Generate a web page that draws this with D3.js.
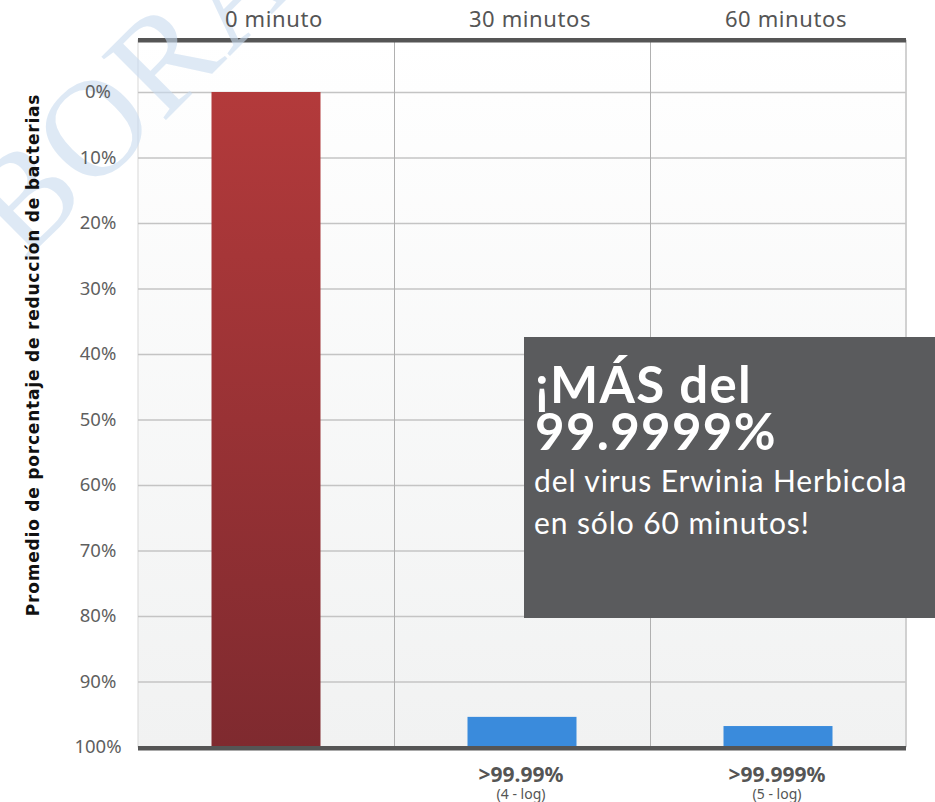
<!DOCTYPE html>
<html>
<head>
<meta charset="utf-8">
<script src="https://cdn.jsdelivr.net/npm/d3@7"></script>
<style>
  body { margin: 0; background: #fff; }
  svg { display: block; }
</style>
</head>
<body>
<div id="chart"></div>
<script>
// data
var categories = ["0 minuto", "30 minutos", "60 minutos"];
var barTops = [0, 95.4, 96.8];          // % where the bar starts (bars run down to 100%)
var barColors = ["red", "blue", "blue"];
var bottomLabels = ["", ">99.99%", ">99.999%"];
var bottomSubLabels = ["", "(4 - log)", "(5 - log)"];
var yTicks = [0, 10, 20, 30, 40, 50, 60, 70, 80, 90, 100];
var boxTitle = ["¡MÁS del", "99.9999%"];
var boxText = ["del virus Erwinia Herbicola", "en sólo 60 minutos!"];

var width = 935, height = 802;
var margin = {top: 92, left: 138, right: 29, bottom: 55};

var svg = d3.select("#chart").append("svg")
    .attr("width", width)
    .attr("height", height);

var defs = svg.append("defs");
var bg = defs.append("linearGradient").attr("id", "bg")
    .attr("x1", 0).attr("y1", 0).attr("x2", 0).attr("y2", 1);
bg.append("stop").attr("offset", "0%").attr("stop-color", "#ffffff");
bg.append("stop").attr("offset", "100%").attr("stop-color", "#f1f2f2");

var red = defs.append("linearGradient").attr("id", "red")
    .attr("x1", 0).attr("y1", 0).attr("x2", 0).attr("y2", 1);
red.append("stop").attr("offset", "0%").attr("stop-color", "#b33a3b");
red.append("stop").attr("offset", "100%").attr("stop-color", "#7f2a2f");

var x = d3.scaleBand()
    .domain(categories)
    .range([margin.left, width - margin.right])
    .paddingInner(0)
    .paddingOuter(0);

var y = d3.scaleLinear()
    .domain([0, 100])
    .range([margin.top, 747]);

var plotTop = 40;

// plot background
svg.append("rect")
    .attr("x", x.range()[0])
    .attr("y", plotTop)
    .attr("width", x.range()[1] - x.range()[0])
    .attr("height", y(100) - plotTop)
    .style("fill", "url(#bg)")
    .style("stroke", "#d8d8d8")
    .style("stroke-width", 1);

// horizontal grid
svg.append("g").attr("class", "grid")
    .selectAll("line")
    .data(yTicks)
    .enter().append("line")
    .attr("x1", x.range()[0])
    .attr("x2", x.range()[1])
    .attr("y1", function(d) { return y(d) + 0.5; })
    .attr("y2", function(d) { return y(d) + 0.5; })
    .style("stroke", "#c4c4c4")
    .style("stroke-width", 1.5);

// vertical separators
svg.append("g")
    .selectAll("line")
    .data(categories.slice(1))
    .enter().append("line")
    .attr("x1", function(d) { return Math.round(x(d)) + 0.5; })
    .attr("x2", function(d) { return Math.round(x(d)) + 0.5; })
    .attr("y1", plotTop)
    .attr("y2", y(100))
    .style("stroke", "#b0b0b0")
    .style("stroke-width", 1);

svg.append("line")
    .attr("x1", x.range()[1]).attr("x2", x.range()[1])
    .attr("y1", plotTop).attr("y2", y(100))
    .style("stroke", "#c8c8c8").style("stroke-width", 1.5);

// bars
var barW = 109;
svg.append("g")
    .selectAll("rect")
    .data(categories)
    .enter().append("rect")
    .attr("x", function(d) { return x(d) + x.bandwidth() / 2 - barW / 2; })
    .attr("y", function(d, i) { return y(barTops[i]); })
    .attr("width", barW)
    .attr("height", function(d, i) { return y(100) - y(barTops[i]); })
    .style("fill", function(d, i) { return barColors[i] === "red" ? "url(#red)" : "#3a8bdc"; });

// thick top / bottom rules
svg.append("rect")
    .attr("x", x.range()[0]).attr("y", plotTop - 2)
    .attr("width", x.range()[1] - x.range()[0]).attr("height", 4.5)
    .style("fill", "#555555");
svg.append("rect")
    .attr("x", x.range()[0]).attr("y", y(100) - 1)
    .attr("width", x.range()[1] - x.range()[0]).attr("height", 4.5)
    .style("fill", "#555555");

// watermark
svg.append("text")
    .attr("transform", "translate(24,262) rotate(-45)")
    .style("font-family", "'Liberation Serif', 'DejaVu Serif', serif")
    .style("font-size", "138px")
    .style("fill", "#c9dcf0")
    .style("opacity", 0.6)
    .style("letter-spacing", "2px")
    .text("BORA");

// y tick labels
svg.append("g")
    .selectAll("text")
    .data(yTicks)
    .enter().append("text")
    .attr("x", 98)
    .attr("y", function(d) { return y(d) + 6; })
    .style("text-anchor", "middle")
    .style("font-family", "'Noto Sans', sans-serif")
    .style("font-size", "18.5px")
    .style("fill", "#5f5f5f")
    .text(function(d) { return d + "%"; });

// y title
svg.append("text")
    .attr("transform", "translate(39,355) rotate(-90)")
    .style("text-anchor", "middle")
    .style("font-family", "'DejaVu Sans', sans-serif")
    .style("font-weight", "bold")
    .style("font-size", "17px")
    .style("letter-spacing", "0.8px")
    .style("fill", "#111")
    .text("Promedio de porcentaje de reducción de bacterias");

// top category labels
svg.append("g")
    .selectAll("text")
    .data(categories)
    .enter().append("text")
    .attr("x", function(d) { return x(d) + x.bandwidth() / 2 + 8; })
    .attr("y", 27)
    .style("text-anchor", "middle")
    .style("font-family", "'Noto Sans', sans-serif")
    .style("font-size", "22px")
    .style("letter-spacing", "0.6px")
    .style("fill", "#555")
    .text(function(d) { return d; });

// bottom value labels
var bl = svg.append("g")
    .selectAll("g")
    .data(categories)
    .enter().append("g")
    .attr("transform", function(d) { return "translate(" + (x(d) + x.bandwidth() / 2 - 1) + ",0)"; });
bl.append("text")
    .attr("y", 782)
    .style("text-anchor", "middle")
    .style("font-family", "'Noto Sans', sans-serif")
    .style("font-weight", "bold")
    .style("font-size", "21px")
    .style("fill", "#555")
    .text(function(d, i) { return bottomLabels[i]; });
bl.append("text")
    .attr("y", 799)
    .style("text-anchor", "middle")
    .style("font-family", "'Noto Sans', sans-serif")
    .style("font-size", "14px")
    .style("fill", "#555")
    .text(function(d, i) { return bottomSubLabels[i]; });

// callout box
svg.append("rect")
    .attr("x", 524).attr("y", 337)
    .attr("width", 411).attr("height", 281)
    .style("fill", "#5a5b5d");

svg.append("g")
    .selectAll("text")
    .data(boxTitle)
    .enter().append("text")
    .attr("x", 535)
    .attr("y", function(d, i) { return 403 + i * 47; })
    .style("font-family", "Lato, 'Open Sans', sans-serif")
    .style("font-weight", "bold")
    .style("font-size", "51px")
    .style("letter-spacing", "1.3px")
    .style("fill", "#fff")
    .text(function(d) { return d; });

svg.append("g")
    .selectAll("text")
    .data(boxText)
    .enter().append("text")
    .attr("x", 534)
    .attr("y", function(d, i) { return 492 + i * 42; })
    .style("font-family", "Lato, 'Open Sans', sans-serif")
    .style("font-size", "30px")
    .style("letter-spacing", "0.9px")
    .style("fill", "#fff")
    .text(function(d) { return d; });
</script>
</body>
</html>
